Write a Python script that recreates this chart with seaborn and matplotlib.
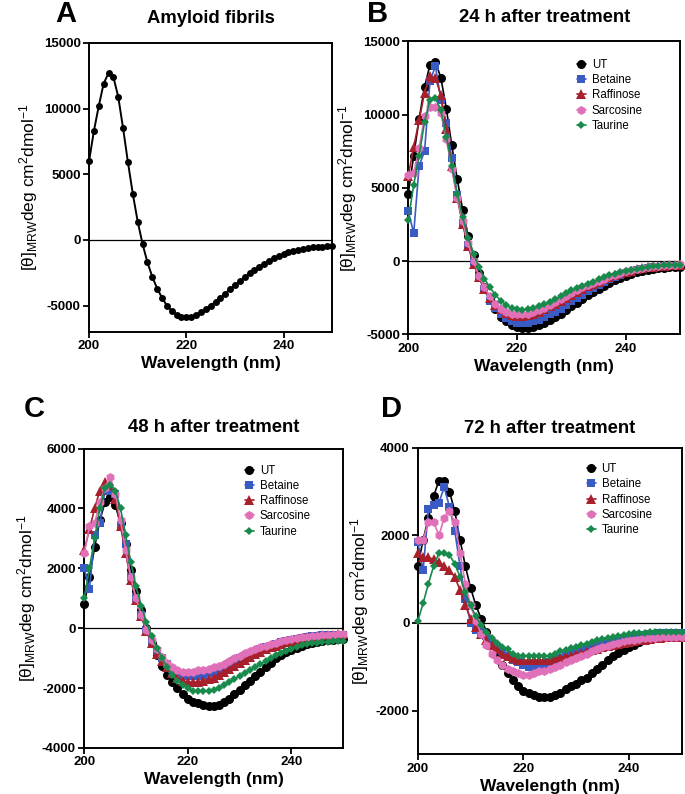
import numpy as np
import pandas as pd
import seaborn as sns
import matplotlib.pyplot as plt

sns.set_theme(style="ticks")
plt.rcParams['font.family'] = ['Liberation Sans', 'DejaVu Sans']
plt.rcParams['mathtext.fontset'] = 'custom'
plt.rcParams['mathtext.rm'] = 'Liberation Sans'
plt.rcParams['mathtext.it'] = 'Liberation Sans'
plt.rcParams['mathtext.bf'] = 'Liberation Sans:bold'
plt.rcParams['axes.unicode_minus'] = False
plt.rcParams['text.color'] = 'black'
plt.rcParams['axes.labelcolor'] = 'black'

wavelength = list(range(200, 251))
treatments = ['UT', 'Betaine', 'Raffinose', 'Sarcosine', 'Taurine']

# panel A - amyloid fibrils
fibrils = [6000, 8300, 10200, 11900, 12700, 12400, 10900, 8500, 5900, 3500,
           1400, -300, -1700, -2800, -3700, -4400, -5000, -5400, -5700, -5850,
           -5900, -5850, -5700, -5500, -5250, -5000, -4700, -4400, -4100, -3750,
           -3450, -3150, -2850, -2550, -2300, -2050, -1800, -1600, -1400, -1250,
           -1100, -950, -850, -750, -680, -620, -570, -530, -500, -480, -470]

# panel B - 24 h
ut_24 = [4600, 7200, 9700, 11900, 13400, 13600, 12500, 10400, 7900, 5600,
         3500, 1700, 400, -800, -1800, -2600, -3300, -3800, -4100, -4400,
         -4500, -4550, -4550, -4500, -4400, -4250, -4050, -3850, -3600, -3350,
         -3100, -2850, -2600, -2350, -2100, -1900, -1700, -1500, -1300, -1150,
         -1000, -880, -780, -690, -610, -550, -500, -460, -430, -410, -400]
betaine_24 = [3400, 1900, 6500, 7500, 12300, 13300, 11000, 9400, 7000, 4500,
              2600, 1100, -100, -1100, -2000, -2700, -3200, -3600, -3900, -4100,
              -4200, -4250, -4200, -4100, -4000, -3850, -3650, -3450, -3250, -3000,
              -2750, -2500, -2300, -2050, -1850, -1650, -1450, -1250, -1100, -950,
              -830, -720, -620, -540, -470, -420, -380, -350, -330, -320, -310]
raffinose_24 = [5800, 7800, 9600, 11500, 12600, 12500, 11300, 9000, 6500, 4300,
                2500, 1000, -200, -1100, -1900, -2500, -3000, -3300, -3550, -3700,
                -3750, -3750, -3700, -3600, -3450, -3300, -3100, -2900, -2700, -2500,
                -2300, -2100, -1900, -1700, -1550, -1400, -1250, -1100, -950, -850,
                -750, -650, -570, -500, -440, -390, -350, -320, -300, -280, -270]
sarcosine_24 = [5900, 6000, 7700, 9900, 10500, 10500, 10100, 8300, 6300, 4300,
                2700, 1200, 0, -1000, -1800, -2400, -2900, -3250, -3450, -3600,
                -3650, -3650, -3600, -3500, -3350, -3200, -3000, -2800, -2600, -2400,
                -2200, -2000, -1800, -1650, -1500, -1350, -1200, -1050, -920, -800,
                -700, -600, -520, -450, -400, -350, -310, -280, -260, -240, -230]
taurine_24 = [2800, 5200, 7200, 9500, 11000, 11100, 10300, 8500, 6500, 4600,
              3000, 1600, 500, -400, -1200, -1800, -2300, -2700, -3000, -3200,
              -3300, -3350, -3300, -3200, -3100, -2950, -2800, -2600, -2400, -2200,
              -2000, -1850, -1700, -1550, -1400, -1250, -1100, -980, -860, -760,
              -670, -590, -520, -460, -410, -370, -330, -300, -280, -260, -250]

# panel C - 48 h
ut_48 = [800, 1700, 2700, 3600, 4200, 4400, 4100, 3500, 2800, 1950,
         1250, 600, 0, -500, -900, -1250, -1550, -1800, -2000, -2200,
         -2350, -2450, -2500, -2550, -2600, -2600, -2550, -2450, -2350, -2200,
         -2050, -1900, -1750, -1600, -1450, -1300, -1150, -1000, -900, -800,
         -720, -650, -590, -540, -490, -450, -420, -400, -380, -360, -350]
betaine_48 = [2000, 1300, 3100, 3500, 4600, 4600, 4500, 3400, 2800, 1700,
              1000, 450, -50, -450, -750, -1000, -1200, -1350, -1450, -1550,
              -1600, -1600, -1600, -1550, -1500, -1450, -1400, -1300, -1200, -1100,
              -1000, -920, -850, -780, -710, -640, -580, -520, -470, -430,
              -390, -350, -320, -290, -270, -250, -240, -230, -220, -220, -220]
raffinose_48 = [2600, 3300, 4000, 4600, 4900, 4800, 4300, 3400, 2500, 1600,
                950, 400, -100, -500, -850, -1100, -1300, -1500, -1650, -1750,
                -1800, -1800, -1800, -1750, -1700, -1650, -1550, -1450, -1350, -1250,
                -1150, -1050, -950, -870, -790, -710, -640, -580, -520, -470,
                -420, -380, -340, -310, -280, -260, -240, -230, -220, -210, -200]
sarcosine_48 = [2500, 3400, 3500, 4200, 4700, 5050, 4500, 3600, 2600, 1700,
                1000, 450, -50, -400, -700, -950, -1150, -1300, -1400, -1450,
                -1450, -1450, -1400, -1400, -1350, -1300, -1250, -1200, -1100, -1000,
                -920, -840, -770, -700, -640, -580, -530, -480, -430, -390,
                -360, -330, -300, -280, -260, -250, -240, -230, -220, -210, -200]
taurine_48 = [1000, 2000, 3000, 4000, 4700, 4800, 4600, 4000, 3100, 2200,
              1400, 750, 200, -250, -650, -1000, -1300, -1550, -1750, -1900,
              -2000, -2100, -2100, -2100, -2100, -2050, -2000, -1900, -1800, -1700,
              -1600, -1500, -1400, -1300, -1200, -1100, -1000, -900, -820, -750,
              -680, -620, -570, -530, -500, -480, -460, -450, -440, -430, -420]

# panel D - 72 h
ut_72 = [1300, 1900, 2400, 2900, 3250, 3250, 3000, 2550, 1900, 1300,
         800, 400, 100, -200, -500, -750, -950, -1150, -1300, -1450,
         -1550, -1600, -1650, -1700, -1700, -1700, -1650, -1600, -1500, -1450,
         -1400, -1300, -1250, -1150, -1050, -950, -850, -750, -680, -620,
         -560, -500, -440, -400, -360, -330, -300, -290, -280, -270, -260]
betaine_72 = [1850, 1200, 2600, 2700, 2750, 3100, 2650, 2100, 1300, 550,
              0, -150, -200, -300, -450, -550, -650, -750, -850, -900,
              -950, -1000, -1000, -950, -950, -900, -850, -800, -750, -700,
              -650, -600, -550, -520, -490, -450, -420, -390, -360, -340,
              -320, -300, -280, -270, -260, -250, -240, -240, -240, -240, -240]
raffinose_72 = [1600, 1500, 1500, 1450, 1400, 1300, 1200, 1050, 750, 400,
                100, -100, -250, -400, -500, -600, -700, -750, -800, -850,
                -850, -850, -850, -850, -850, -850, -800, -800, -750, -750,
                -700, -680, -650, -620, -600, -560, -530, -500, -480, -460,
                -440, -420, -400, -380, -360, -350, -340, -330, -330, -320, -320]
sarcosine_72 = [1900, 1900, 2300, 2300, 2000, 2400, 2550, 2300, 1600, 900,
                400, 50, -250, -500, -700, -850, -950, -1050, -1100, -1150,
                -1200, -1200, -1150, -1100, -1100, -1050, -1000, -950, -900, -850,
                -800, -750, -700, -650, -600, -560, -520, -480, -450, -420,
                -400, -380, -360, -350, -340, -340, -330, -330, -330, -330, -330]
taurine_72 = [50, 450, 900, 1300, 1600, 1600, 1550, 1350, 1050, 700,
              400, 150, -50, -200, -350, -450, -550, -600, -700, -750,
              -750, -750, -750, -750, -750, -750, -700, -650, -620, -580,
              -550, -500, -470, -430, -400, -370, -340, -310, -290, -270,
              -250, -240, -230, -220, -210, -200, -200, -200, -200, -200, -200]

palette = {'UT': '#000000', 'Betaine': '#3b5bc4', 'Raffinose': '#a8202c',
           'Sarcosine': '#e070b8', 'Taurine': '#178a4c'}
markers = {'UT': 'o', 'Betaine': 's', 'Raffinose': '^', 'Sarcosine': 'h', 'Taurine': 'D'}
msizes = {'UT': 6.5, 'Betaine': 6, 'Raffinose': 6.5, 'Sarcosine': 6.5, 'Taurine': 4.5}

ylabel = r'$[\theta]_{MRW}$deg cm$^{2}$dmol$^{-1}$'


def style_axis(ax, ylim, yticks, title, letter, letter_x, letter_y, title_pad):
    ax.set_xlim(200, 250)
    ax.set_ylim(*ylim)
    ax.set_xticks([200, 220, 240])
    ax.set_yticks(yticks)
    ax.axhline(0, color='black', lw=0.9, zorder=1)
    for s in ax.spines.values():
        s.set_visible(True)
        s.set_linewidth(1.4)
        s.set_color('black')
    ax.tick_params(direction='out', length=4, width=1.3, labelsize=9.5, colors='black', pad=2)
    for lab in ax.get_xticklabels() + ax.get_yticklabels():
        lab.set_fontweight('bold')
    ax.set_xlabel('Wavelength (nm)', fontsize=12.5, fontweight='bold', labelpad=3)
    ax.set_ylabel(ylabel, fontsize=12.5, labelpad=3)
    ax.set_title(title, fontsize=13.3, fontweight='bold', pad=title_pad)
    ax.text(letter_x, letter_y, letter, transform=ax.transAxes, fontsize=21,
            fontweight='bold', ha='left', va='bottom')


def draw_panel(ax, series, legend_anchor):
    rows = []
    for name, vals in zip(treatments, series):
        for w, v in zip(wavelength, vals):
            rows.append({'Wavelength': w, 'theta': v, 'Treatment': name})
    df = pd.DataFrame(rows)
    for name in treatments:
        sub = df[df['Treatment'] == name]
        sns.lineplot(data=sub, x='Wavelength', y='theta', ax=ax, color=palette[name],
                     marker=markers[name], markersize=msizes[name], markeredgewidth=0,
                     linewidth=1.2, label=name, clip_on=False, zorder=3)
    ax.legend(loc='upper left', bbox_to_anchor=legend_anchor, frameon=False,
              fontsize=8.3, handlelength=0.8, handletextpad=0.5, labelspacing=0.28,
              borderpad=0, borderaxespad=0)


fig = plt.figure(figsize=(6.85, 7.94), dpi=100)
axA = fig.add_axes([0.130, 0.582, 0.355, 0.364])
axB = fig.add_axes([0.596, 0.579, 0.397, 0.369])
axC = fig.add_axes([0.123, 0.058, 0.378, 0.377])
axD = fig.add_axes([0.610, 0.050, 0.385, 0.386])

sns.lineplot(x=wavelength, y=fibrils, ax=axA, color='black', marker='o',
             markersize=5, markeredgewidth=0, linewidth=1.4, clip_on=False, zorder=3)
style_axis(axA, (-7000, 15000), [-5000, 0, 5000, 10000, 15000], 'Amyloid fibrils',
           'A', -0.14, 1.05, 14)

draw_panel(axB, [ut_24, betaine_24, raffinose_24, sarcosine_24, taurine_24], (0.62, 0.94))
style_axis(axB, (-5000, 15000), [-5000, 0, 5000, 10000, 15000], '24 h after treatment',
           'B', -0.15, 1.045, 14)

draw_panel(axC, [ut_48, betaine_48, raffinose_48, sarcosine_48, taurine_48], (0.62, 0.946))
style_axis(axC, (-4000, 6000), [-4000, -2000, 0, 2000, 4000, 6000], '48 h after treatment',
           'C', -0.235, 1.085, 12)

draw_panel(axD, [ut_72, betaine_72, raffinose_72, sarcosine_72, taurine_72], (0.64, 0.95))
style_axis(axD, (-3000, 4000), [-2000, 0, 2000, 4000], '72 h after treatment',
           'D', -0.14, 1.08, 11)

fig.savefig('out.png', dpi=100)
